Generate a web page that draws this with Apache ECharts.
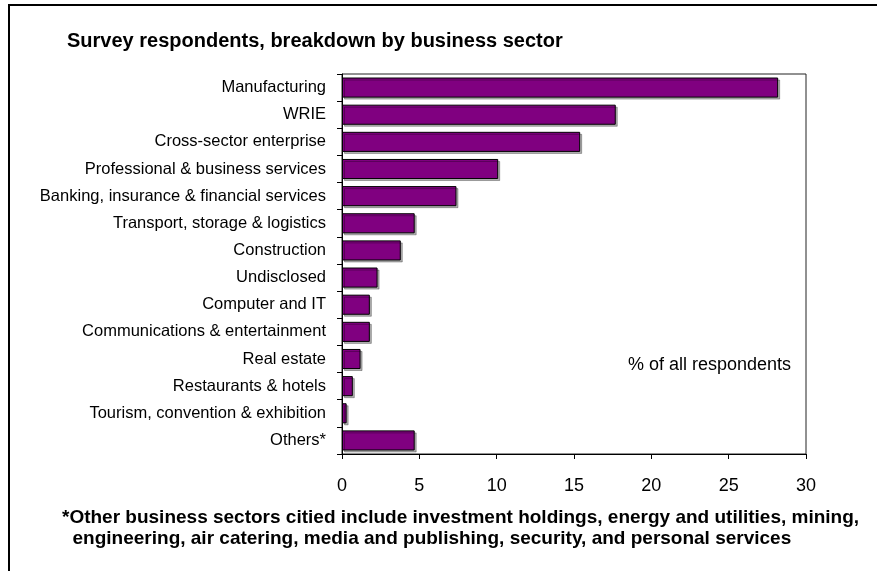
<!DOCTYPE html>
<html>
<head>
<meta charset="utf-8">
<script src="https://cdn.jsdelivr.net/npm/echarts@6/dist/echarts.min.js"></script>
<style>
  html, body { margin: 0; padding: 0; background: #fff; }
  #chart { width: 877px; height: 571px; }
</style>
</head>
<body>
<div id="chart"></div>
<script>
// Business sectors, top to bottom
const sectors = [
  'Manufacturing',
  'WRIE',
  'Cross-sector enterprise',
  'Professional & business services',
  'Banking, insurance & financial services',
  'Transport, storage & logistics',
  'Construction',
  'Undisclosed',
  'Computer and IT',
  'Communications & entertainment',
  'Real estate',
  'Restaurants & hotels',
  'Tourism, convention & exhibition',
  'Others*'
];
// Share of all respondents, %
const shares = [28.2, 17.7, 15.4, 10.1, 7.4, 4.7, 3.8, 2.3, 1.8, 1.8, 1.2, 0.7, 0.3, 4.7];
const xTicks = [0, 5, 10, 15, 20, 25, 30];

const titleText = 'Survey respondents, breakdown by business sector';
const unitText = '% of all respondents';
const noteLines = [
  '*Other business sectors citied include investment holdings, energy and utilities, mining,',
  '  engineering, air catering, media and publishing, security, and personal services'
];

const chart = echarts.init(document.getElementById('chart'), null, { renderer: 'canvas' });
const font = 'Arial, "Liberation Sans", sans-serif';

chart.setOption({
  animation: false,
  backgroundColor: '#fff',
  title: {
    text: titleText,
    left: 62,
    top: 26,
    textStyle: { fontFamily: font, fontSize: 20, fontWeight: 'bold', color: '#000' }
  },
  grid: {
    left: 342, right: 71, top: 74, bottom: 117,
    show: true, borderColor: '#222', borderWidth: 1, backgroundColor: '#fff'
  },
  xAxis: {
    type: 'value',
    min: xTicks[0],
    max: xTicks[xTicks.length - 1],
    interval: 5,
    splitLine: { show: false },
    axisLine: { show: true, lineStyle: { color: '#000', width: 1 } },
    axisTick: { show: true, length: 5, lineStyle: { color: '#000' } },
    axisLabel: { fontFamily: font, fontSize: 18, color: '#000', margin: 23 }
  },
  yAxis: {
    type: 'category',
    data: sectors,
    inverse: true,
    axisLine: { show: true, lineStyle: { color: '#000', width: 1 } },
    axisTick: { show: true, length: 5, alignWithLabel: false, lineStyle: { color: '#000' } },
    axisLabel: { fontFamily: font, fontSize: 16.5, color: '#000', margin: 16 }
  },
  series: [{
    type: 'bar',
    data: shares,
    barCategoryGap: '26%',
    itemStyle: {
      color: '#800080',
      borderColor: '#000',
      borderWidth: 1,
      shadowColor: 'rgba(0,0,0,0.3)',
      shadowOffsetX: 2,
      shadowOffsetY: 2,
      shadowBlur: 0
    }
  }],
  graphic: [
    {
      type: 'polyline',
      shape: { points: [[9, 580], [9, 5], [890, 5]] },
      style: { stroke: '#000', lineWidth: 2, fill: null }
    },
    {
      type: 'text',
      left: 628, top: 356,
      style: { text: unitText, font: '18px ' + font, fill: '#000' }
    },
    {
      type: 'text',
      left: 62, top: 507,
      style: { text: noteLines.join('\n'), font: 'bold 19px ' + font, lineHeight: 21.5, fill: '#000' }
    }
  ]
});
</script>
</body>
</html>
